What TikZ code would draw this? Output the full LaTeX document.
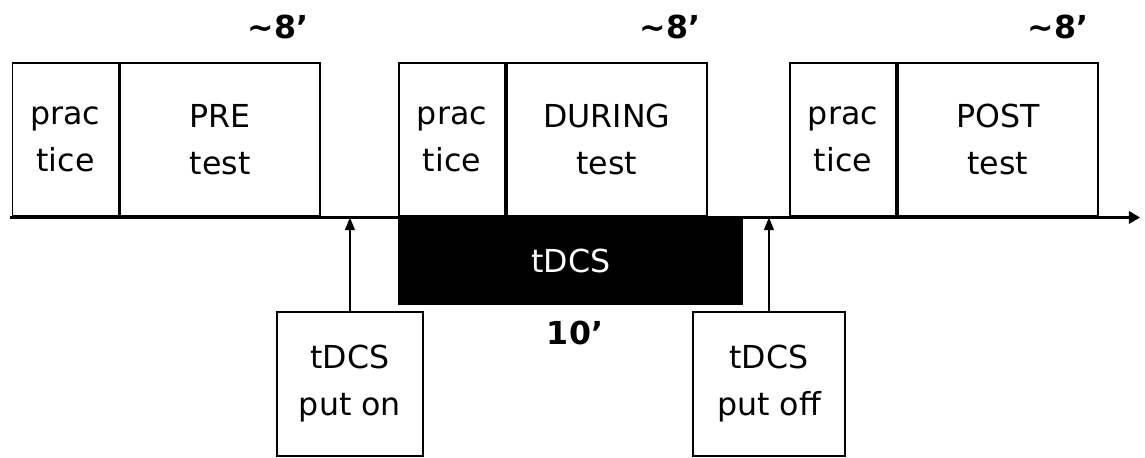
\documentclass[tikz,border=0pt]{standalone}
\usepackage{fontspec}
\setmainfont{DejaVu Sans}
\usetikzlibrary{arrows.meta}
\begin{document}
\begin{tikzpicture}[x=0.025cm,y=-0.025cm,
    every node/.style={font=\fontsize{22.5}{33.5}\selectfont,align=center,inner sep=0pt},
    stage/.style={draw,line width=1.3pt,minimum height=3.83cm,anchor=south west},
    practbox/.style={stage,minimum width=2.65cm},
    testbox/.style={stage,minimum width=5cm},
    markbox/.style={draw,line width=1.3pt,minimum height=3.6cm,anchor=north west},
    dur/.style={font=\fontsize{22.5}{33.5}\selectfont\bfseries},
    tip/.style={-{Triangle[length=9pt,width=7pt]}}]
    \useasboundingbox (0,0) rectangle (1145,458);
    % time axis
    \coordinate (t0) at (10,217.5);
    \coordinate (t1) at (1140,217.5);
    \draw[line width=1.5pt,-{Triangle[length=8pt,width=9pt]}] (t0) -- (t1);
    % PRE
    \node[practbox] (pracA) at (11.5,217) {prac\\tice};
    \node[testbox,anchor=south west] (pre) at (pracA.south east) {PRE\\test};
    % DURING
    \node[practbox] (pracB) at (398,217) {prac\\tice};
    \node[testbox,anchor=south west] (during) at (pracB.south east) {DURING\\test};
    % POST
    \node[practbox] (pracC) at (789,217) {prac\\tice};
    \node[testbox,anchor=south west] (post) at (pracC.south east) {POST\\test};
    % stimulation
    \node[fill=black,text=white,minimum width=8.625cm,minimum height=2.225cm,anchor=north west] (stim) at (398,216) {tDCS};
    \node[dur] (stimlen) at (575,333) {10’};
    % durations
    \node[dur] (preLen) at (278,27) {\textasciitilde8’};
    \node[dur] (durLen) at (670,27) {\textasciitilde8’};
    \node[dur] (postLen) at (1058,27) {\textasciitilde8’};
    % electrodes
    \node[markbox,minimum width=3.65cm] (on) at (276,311) {tDCS\\put on};
    \node[markbox,minimum width=3.8cm] (off) at (692,311) {tDCS\\put off};
    \draw[line width=1.3pt,tip] (on) -- (on |- t0);
    \draw[line width=1.3pt,tip] (off) -- (off |- t0);
\end{tikzpicture}
\end{document}
